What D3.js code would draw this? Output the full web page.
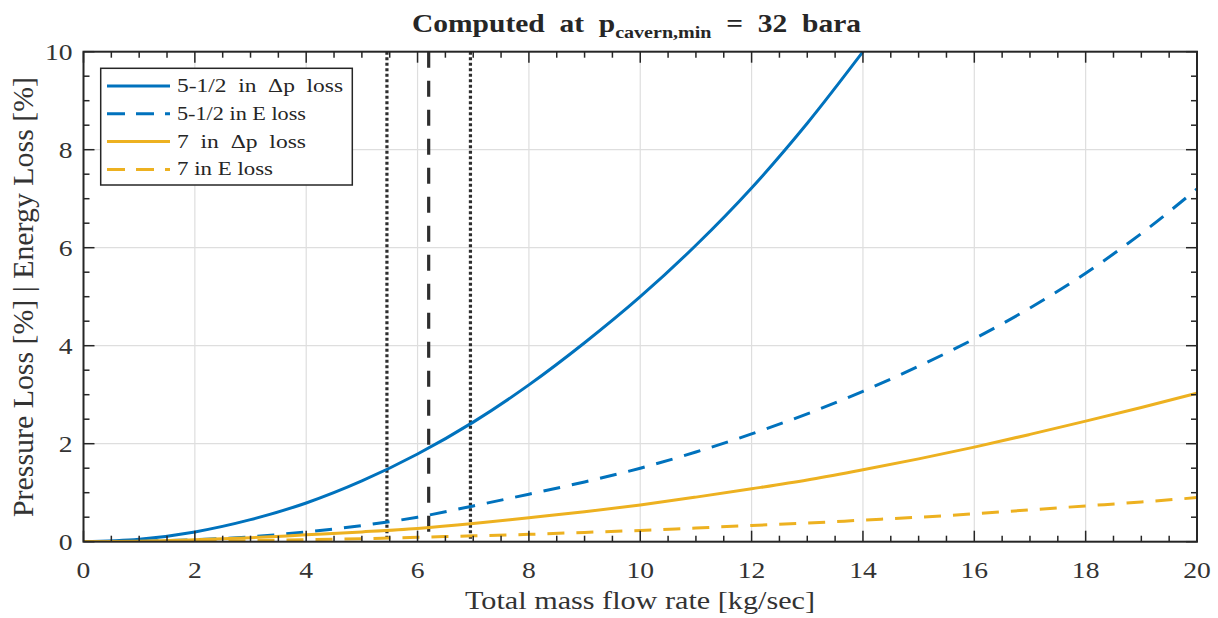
<!DOCTYPE html>
<html>
<head>
<meta charset="utf-8">
<script src="https://cdn.jsdelivr.net/npm/d3@7"></script>
<style>
  body { margin: 0; background: #fff; }
  svg { display: block; font-family: "Liberation Serif", "Times New Roman", serif; }
</style>
</head>
<body>
<svg id="chart" width="1218" height="618"></svg>
<script>
// x values for all curves (kg/sec)
const flowRate = [0, 1, 2, 3, 4, 5, 6, 7, 8, 9, 10, 11, 12, 13, 14, 15, 16, 17, 18, 19, 20];

const dpLoss55 = [0, 0.05, 0.2, 0.45, 0.79, 1.24, 1.79, 2.44, 3.2, 4.06, 5.0, 6.05, 7.22, 8.54, 10.0];
const eLoss55 = [0, 0.01, 0.04, 0.1, 0.2, 0.33, 0.5, 0.73, 0.97, 1.22, 1.5, 1.83, 2.2, 2.61, 3.07, 3.58, 4.14, 4.77, 5.48, 6.29, 7.2];
const dpLoss7 = [0, 0.01, 0.04, 0.08, 0.14, 0.2, 0.27, 0.37, 0.49, 0.61, 0.75, 0.91, 1.08, 1.26, 1.47, 1.69, 1.93, 2.19, 2.46, 2.74, 3.03];
const eLoss7 = [0, 0, 0.01, 0.02, 0.04, 0.06, 0.09, 0.12, 0.15, 0.19, 0.23, 0.28, 0.33, 0.38, 0.44, 0.5, 0.57, 0.65, 0.73, 0.81, 0.9];

const seriesNames = ['5-1/2  in  \u0394p  loss', '5-1/2 in E loss', '7  in  \u0394p  loss', '7 in E loss'];
const markerLines = [5.45, 6.2, 6.95];

const xTicks = [0, 2, 4, 6, 8, 10, 12, 14, 16, 18, 20];
const yTicks = [0, 2, 4, 6, 8, 10];

const svg = d3.select('#chart');
const margin = { left: 83.5, right: 21, top: 51.7, bottom: 76.3 };
const W = 1218, H = 618;

const x = d3.scaleLinear().domain([0, 20]).range([margin.left, W - margin.right]);
const y = d3.scaleLinear().domain([0, 10]).range([H - margin.bottom, margin.top]);

const blue = '#0072BD', yellow = '#EDB120', ink = '#262626';

const series = [
  { name: seriesNames[0], vals: dpLoss55, color: blue, dash: null, w: 166 },
  { name: seriesNames[1], vals: eLoss55, color: blue, dash: '17,12', w: 129 },
  { name: seriesNames[2], vals: dpLoss7, color: yellow, dash: null, w: 129 },
  { name: seriesNames[3], vals: eLoss7, color: yellow, dash: '17,12', w: 96 },
];

// grid
const grid = svg.append('g').attr('stroke', '#dedede').attr('stroke-width', 1.2);
grid.selectAll('.gx').data(xTicks.slice(1, -1)).join('line')
  .attr('x1', d => x(d)).attr('x2', d => x(d))
  .attr('y1', y(0)).attr('y2', y(10));
grid.selectAll('.gy').data(yTicks.slice(1, -1)).join('line')
  .attr('y1', d => y(d)).attr('y2', d => y(d))
  .attr('x1', x(0)).attr('x2', x(20));

// clip for curves
svg.append('clipPath').attr('id', 'plotclip')
  .append('rect').attr('x', x(0)).attr('y', y(10))
  .attr('width', x(20) - x(0)).attr('height', y(0) - y(10));

// vertical marker lines
svg.append('g').selectAll('line').data(markerLines).join('line')
  .attr('x1', d => x(d)).attr('x2', d => x(d))
  .attr('y1', y(10)).attr('y2', y(0))
  .attr('stroke', '#2e2e2e')
  .attr('stroke-width', 3.2)
  .attr('stroke-dasharray', (d, i) => i === 1 ? '16,13' : '3,2.5');

// curves
const line = d3.line()
  .x((d, i) => x(flowRate[i]))
  .y(d => y(d))
  .curve(d3.curveMonotoneX);

svg.append('g').attr('clip-path', 'url(#plotclip)')
  .selectAll('path').data(series).join('path')
  .attr('d', d => line(d.vals))
  .attr('fill', 'none')
  .attr('stroke', d => d.color)
  .attr('stroke-width', 3)
  .attr('stroke-dasharray', d => d.dash);

// axes: ticks inward on all four sides
const minorX = d3.range(0, 20.01, 0.5);
const minorY = d3.range(0, 10.01, 0.5);
const tk = svg.append('g').attr('stroke', ink).attr('stroke-width', 1.5);
[[y(0), -1], [y(10), 1]].forEach(([yy, dir]) => {
  tk.append('g').selectAll('line').data(minorX).join('line')
    .attr('x1', d => x(d)).attr('x2', d => x(d))
    .attr('y1', yy).attr('y2', d => yy + dir * (d % 2 === 0 ? 11 : 6));
});
[[x(0), 1], [x(20), -1]].forEach(([xx, dir]) => {
  tk.append('g').selectAll('line').data(minorY).join('line')
    .attr('y1', d => y(d)).attr('y2', d => y(d))
    .attr('x1', xx).attr('x2', d => xx + dir * (d % 2 === 0 ? 11 : 6));
});

svg.append('rect')
  .attr('x', x(0)).attr('y', y(10))
  .attr('width', x(20) - x(0)).attr('height', y(0) - y(10))
  .attr('fill', 'none').attr('stroke', ink).attr('stroke-width', 2);

// tick labels (glyphs in the reference are a little wider than Liberation Serif)
svg.append('g').selectAll('text').data(xTicks).join('text')
  .attr('transform', d => `translate(${x(d)},${y(0) + 36}) scale(1.2,1)`)
  .attr('text-anchor', 'middle')
  .attr('font-size', 23).attr('fill', '#333')
  .text(d => d);
svg.append('g').selectAll('text').data(yTicks).join('text')
  .attr('transform', d => `translate(${x(0) - 11},${y(d) + 8}) scale(1.2,1)`)
  .attr('text-anchor', 'end')
  .attr('font-size', 23).attr('fill', '#333')
  .text(d => d);

// axis labels
svg.append('text')
  .attr('x', 465).attr('y', 609)
  .attr('font-size', 25).attr('fill', '#333')
  .attr('textLength', 350).attr('lengthAdjust', 'spacingAndGlyphs')
  .text('Total mass flow rate [kg/sec]');
svg.append('text')
  .attr('transform', `translate(33,517) rotate(-90)`)
  .attr('font-size', 30).attr('fill', '#333')
  .attr('textLength', 440).attr('lengthAdjust', 'spacingAndGlyphs')
  .text('Pressure Loss [%] | Energy Loss [%]');

// title
const title = svg.append('text')
  .attr('x', 0).attr('y', 0)
  .attr('font-size', 25)
  .attr('font-weight', 'bold').attr('fill', ink)
  .style('white-space', 'pre');
title.append('tspan').text('Computed  at  p');
title.append('tspan').attr('font-size', 17).attr('dy', 6).text('cavern,min');
title.append('tspan').attr('dy', -6).text('  =  32  bara');
const tw = title.node().getBBox().width;
title.attr('transform', `translate(412,32) scale(${450 / tw},1)`);

// legend
const lg = svg.append('g');
lg.append('rect')
  .attr('x', 100.7).attr('y', 68.3).attr('width', 251.6).attr('height', 116.7)
  .attr('fill', '#fff').attr('stroke', ink).attr('stroke-width', 1.5);
const items = lg.selectAll('g.item').data(series).join('g')
  .attr('transform', (d, i) => `translate(107,${86 + i * 27.8})`);
items.append('line')
  .attr('x1', 0).attr('x2', 63)
  .attr('stroke', d => d.color).attr('stroke-width', 3)
  .attr('stroke-dasharray', d => d.dash ? '18,11' : null);
items.append('text')
  .attr('x', 70).attr('y', 6)
  .attr('font-size', 19).attr('fill', ink)
  .style('white-space', 'pre')
  .attr('textLength', d => d.w).attr('lengthAdjust', 'spacingAndGlyphs')
  .text(d => d.name);
</script>
</body>
</html>
